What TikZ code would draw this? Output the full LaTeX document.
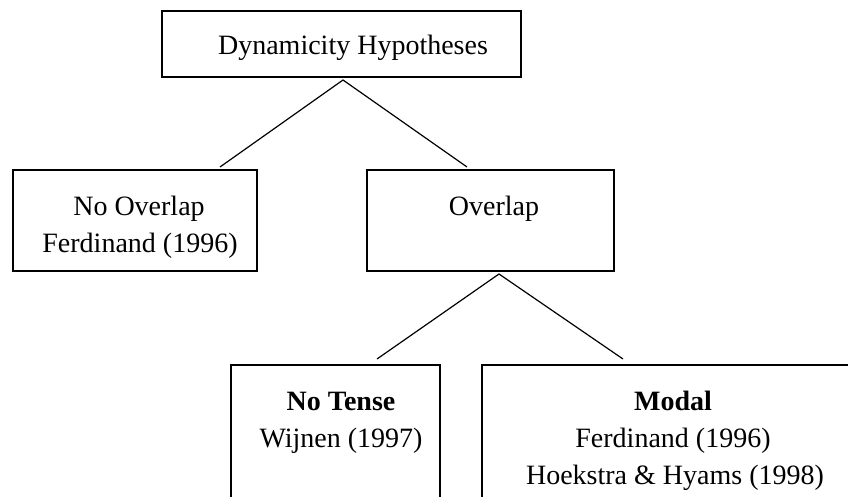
\documentclass[tikz,border=0pt]{standalone}
\usepackage{fontspec}
\setmainfont{Liberation Serif}
\usetikzlibrary{calc}
\begin{document}
\begin{tikzpicture}[x=1pt,y=-1pt,
  box/.style={draw=black, line width=1.6pt, inner sep=0pt, outer sep=0pt},
  lbl/.style={anchor=base, inner sep=0pt, font=\fontsize{28}{37}\selectfont},
  link/.style={draw=black, line width=1.2pt}]
\useasboundingbox (0,0) rectangle (848,497);
\clip (0,0) rectangle (848,497);
% boxes
\node[box, minimum width=359pt, minimum height=66pt]  (top)   at (341.5,44)   {};
\node[box, minimum width=244pt, minimum height=101pt] (left)  at (135,220.5)  {};
\node[box, minimum width=247pt, minimum height=101pt] (over)  at (490.5,220.5) {};
\node[box, minimum width=209pt, minimum height=210pt] (nt)    at (335.5,470)  {};
\node[box, minimum width=380pt, minimum height=210pt] (modal) at (672,470)    {};
% texts
\node[lbl] (t1) at (353,55)  {Dynamicity Hypotheses};
\node[lbl] (l1) at (139,215) {No Overlap};
\node[lbl] (l2) at (140,252) {Ferdinand (1996)};
\node[lbl] (o1) at (494,215) {Overlap};
\node[lbl] (n1) at (341,410) {\textbf{No Tense}};
\node[lbl] (n2) at (341,447) {Wijnen (1997)};
\node[lbl] (m1) at (673,410) {\textbf{Modal}};
\node[lbl] (m2) at (673,447) {Ferdinand (1996)};
\node[lbl] (m3) at (675,484) {Hoekstra \& Hyams (1998)};
% connectors
\draw[link] ($(left.north)+(85,-3)$) -- ($(top.south)+(1.5,3)$) -- ($(over.north)+(-23.5,-3)$);
\draw[link] ($(nt.north)+(41.5,-6)$) -- ($(over.south)+(8.5,3)$) -- ($(modal.north)+(-49,-6)$);
\end{tikzpicture}
\end{document}
